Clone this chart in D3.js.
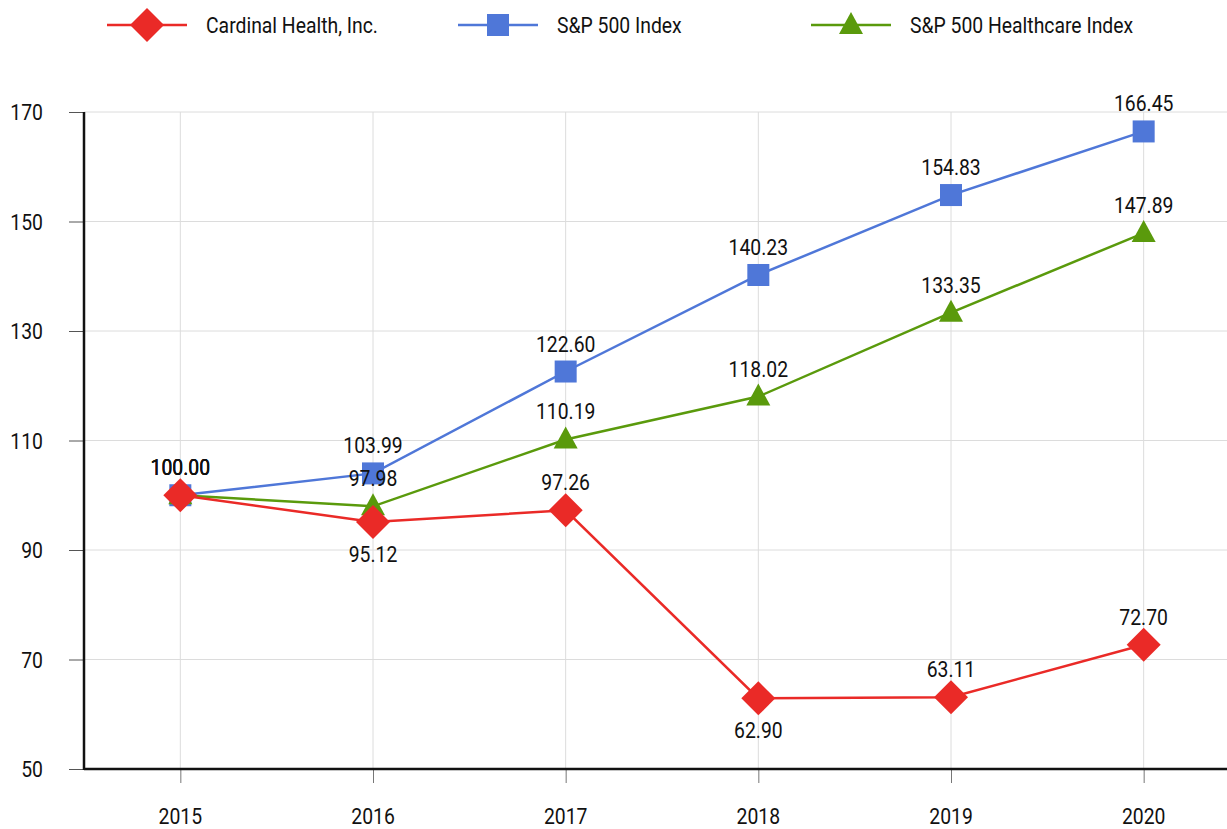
<!DOCTYPE html>
<html>
<head>
<meta charset="utf-8">
<script src="https://cdn.jsdelivr.net/npm/d3@7"></script>
<style>
  body { margin:0; background:#fff; }
  text { font-family: "Liberation Sans Narrow", "Roboto", sans-serif; fill:#111; }
</style>
</head>
<body>
<script>
var years = ["2015","2016","2017","2018","2019","2020"];
var cardinal = [100.00, 95.12, 97.26, 62.90, 63.11, 72.70];
var sp500 = [100.00, 103.99, 122.60, 140.23, 154.83, 166.45];
var healthcare = [100.00, 97.98, 110.19, 118.02, 133.35, 147.89];
var yTicks = [50, 70, 90, 110, 130, 150, 170];
// label below the point for these (cardinal only)
var cardinalBelow = [false, true, false, true, false, false];

var totalWidth = 1227, totalHeight = 829;
var margin = {top:112, left:84, bottom:60, right:0};
var height = totalHeight - margin.top - margin.bottom;
var fontSize = "22px";
var squeeze = 0.88; // narrow look of the original font

var svg = d3.select("body").append("svg")
    .attr("width", totalWidth)
    .attr("height", totalHeight);

var xScale = d3.scalePoint().domain(years).range([margin.left, 1240]).padding(0.5);
var yScale = d3.scaleLinear().domain([50,170]).range([margin.top + height, margin.top]);

function narrowText(sel, x, y) {
  sel.attr("transform", function(d, i){
      return "translate(" + x(d, i) + "," + y(d, i) + ") scale(" + squeeze + ",1)";
    })
    .style("font-size", fontSize);
}

// grid
svg.append("g").selectAll("line.h").data(yTicks).enter().append("line")
    .attr("x1", margin.left).attr("x2", totalWidth)
    .attr("y1", function(d){return yScale(d);}).attr("y2", function(d){return yScale(d);})
    .attr("stroke", "#dcdcdc").attr("stroke-width", 1);
svg.append("g").selectAll("line.v").data(years).enter().append("line")
    .attr("x1", function(d){return xScale(d);}).attr("x2", function(d){return xScale(d);})
    .attr("y1", margin.top).attr("y2", yScale(50))
    .attr("stroke", "#dcdcdc").attr("stroke-width", 1);

// axes
var yAxis = d3.axisLeft(yScale).tickValues(yTicks).tickSize(15).tickFormat("");
var yAxisGroup = svg.append("g").attr("transform", "translate(" + margin.left + ",0)").call(yAxis);
yAxisGroup.select(".domain").remove();
yAxisGroup.selectAll(".tick line").attr("stroke", "#555");

var xAxis = d3.axisBottom(xScale).tickSize(14).tickFormat("");
var xAxisGroup = svg.append("g").attr("transform", "translate(0," + yScale(50) + ")").call(xAxis);
xAxisGroup.select(".domain").remove();
xAxisGroup.selectAll(".tick line").attr("stroke", "#777");

svg.append("g").selectAll("text").data(yTicks).enter().append("text")
    .attr("text-anchor", "end")
    .call(narrowText, function(){return 43;}, function(d){return yScale(d) + 8;})
    .text(function(d){return d;});

svg.append("g").selectAll("text").data(years).enter().append("text")
    .attr("text-anchor", "middle")
    .call(narrowText, function(d){return xScale(d);}, function(){return yScale(50) + 55;})
    .text(function(d){return d;});

svg.append("line").attr("x1", margin.left).attr("x2", margin.left)
    .attr("y1", yScale(170)).attr("y2", yScale(50) + 1)
    .attr("stroke", "#111").attr("stroke-width", 2.5);
svg.append("line").attr("x1", margin.left).attr("x2", totalWidth)
    .attr("y1", yScale(50)).attr("y2", yScale(50))
    .attr("stroke", "#111").attr("stroke-width", 2.5);

var series = [
  {name:"S&P 500 Index", values:sp500, color:"#4f77d8", shape:"square"},
  {name:"S&P 500 Healthcare Index", values:healthcare, color:"#5a9a0c", shape:"triangle"},
  {name:"Cardinal Health, Inc.", values:cardinal, color:"#ea2a27", shape:"diamond"}
];

function marker(g, shape, color) {
  if (shape == "square") {
    g.append("rect").attr("x", -11).attr("y", -11).attr("width", 22).attr("height", 22).attr("fill", color);
  } else if (shape == "triangle") {
    g.append("path").attr("d", "M0,-13L12,9L-12,9Z").attr("fill", color);
  } else {
    g.append("path").attr("d", "M0,-17L17,0L0,17L-17,0Z").attr("fill", color);
  }
}

var line = d3.line()
    .x(function(d, i){return xScale(years[i]);})
    .y(function(d){return yScale(d);});

series.forEach(function(s){
  svg.append("path").datum(s.values)
    .attr("d", line).attr("fill", "none")
    .attr("stroke", s.color).attr("stroke-width", 2.5);
});
series.forEach(function(s){
  s.values.forEach(function(v, i){
    var g = svg.append("g").attr("transform", "translate(" + xScale(years[i]) + "," + yScale(v) + ")");
    marker(g, s.shape, s.color);
  });
});

// value labels
series.forEach(function(s){
  svg.append("g").selectAll("text").data(s.values).enter().append("text")
    .attr("text-anchor", "middle")
    .call(narrowText,
      function(d, i){return xScale(years[i]);},
      function(d, i){
        var below = s.shape == "diamond" && cardinalBelow[i];
        return yScale(d) + (below ? 40 : -20);
      })
    .text(function(d){return d.toFixed(2);});
});

// legend
var legendItems = [
  {name:"Cardinal Health, Inc.", color:"#ea2a27", shape:"diamond", x:147},
  {name:"S&P 500 Index", color:"#4f77d8", shape:"square", x:498},
  {name:"S&P 500 Healthcare Index", color:"#5a9a0c", shape:"triangle", x:851}
];
legendItems.forEach(function(d){
  var g = svg.append("g").attr("transform", "translate(" + d.x + ",25)");
  g.append("line").attr("x1", -40).attr("x2", 40).attr("stroke", d.color).attr("stroke-width", 2.5);
  marker(g, d.shape, d.color);
  g.append("text").datum(d)
    .call(narrowText, function(){return 59;}, function(){return 8;})
    .text(d.name);
});
</script>
</body>
</html>
